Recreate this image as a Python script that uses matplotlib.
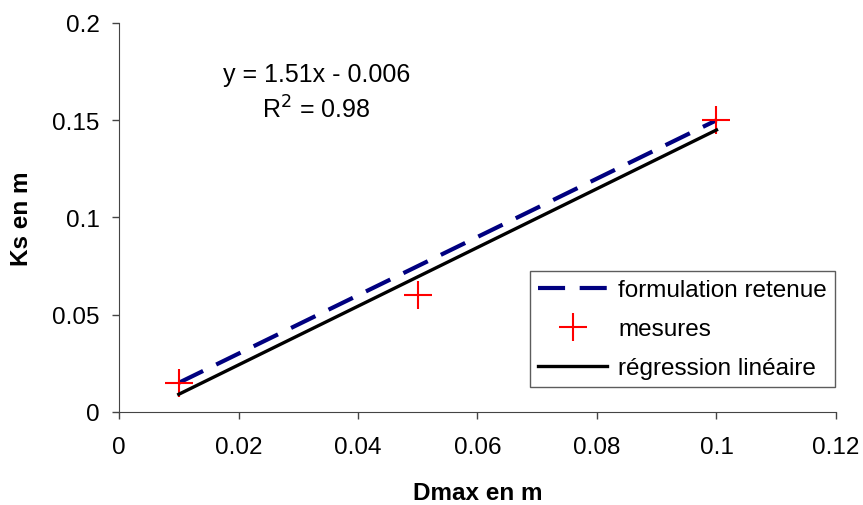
import matplotlib
matplotlib.use("Agg")
import matplotlib.pyplot as plt
import numpy as np

plt.rcParams["font.family"] = ["Liberation Sans", "DejaVu Sans"]

# data
d_form = [0.01, 0.05, 0.1]
ks_form = [0.015, 0.075, 0.15]
d_mes = [0.01, 0.05, 0.1]
ks_mes = [0.015, 0.06, 0.15]
slope, intercept = 1.51, -0.006
d_reg = np.array([0.01, 0.1])
x_ticks = [0, 0.02, 0.04, 0.06, 0.08, 0.1, 0.12]
x_labels = ["0", "0.02", "0.04", "0.06", "0.08", "0.1", "0.12"]
y_ticks = [0, 0.05, 0.1, 0.15, 0.2]
y_labels = ["0", "0.05", "0.1", "0.15", "0.2"]

fig = plt.figure(figsize=(8.63, 5.06), dpi=100)
ax = fig.add_axes([0.1379, 0.1838, 0.8308, 0.7688])

ax.plot(d_form, ks_form, color="#000080", lw=3.0, dashes=(6.5, 3.5),
        label="formulation retenue")
ax.plot(d_mes, ks_mes, ls="none", marker="+", ms=20, mew=1.5, color="#ff0000",
        label="mesures")
ax.plot(d_reg, slope * d_reg + intercept, color="black", lw=2.4,
        label="régression linéaire")

ax.set_xlim(0, 0.12)
ax.set_ylim(0, 0.2)
ax.set_xticks(x_ticks)
ax.set_xticklabels(x_labels)
ax.set_yticks(y_ticks)
ax.set_yticklabels(y_labels)
ax.tick_params(labelsize=17.5, length=5, width=1, color="#444444")
ax.tick_params(axis="x", pad=12)
ax.tick_params(axis="y", pad=9)
for s in ["top", "right"]:
    ax.spines[s].set_visible(False)
for s in ["left", "bottom"]:
    ax.spines[s].set_color("#444444")

ax.set_xlabel("Dmax en m", fontsize=17.5, fontweight="bold", labelpad=17)
ax.set_ylabel("Ks en m", fontsize=17.5, fontweight="bold", labelpad=14)

ax.text(0.0331, 0.1738, "y = 1.51x - 0.006", fontsize=18, ha="center", va="center")
ax.text(0.0330, 0.1558, "R$^2$ = 0.98", fontsize=18, ha="center", va="center")

leg = ax.legend(loc="lower right", bbox_to_anchor=(0.9986, 0.064), borderaxespad=0,
                fontsize=17.5, frameon=True, fancybox=False, edgecolor="#333333",
                handlelength=2.85, borderpad=0.33, labelspacing=0.7,
                handletextpad=0.45)
leg.get_frame().set_linewidth(1.0)

fig.savefig("out.png", dpi=100)
